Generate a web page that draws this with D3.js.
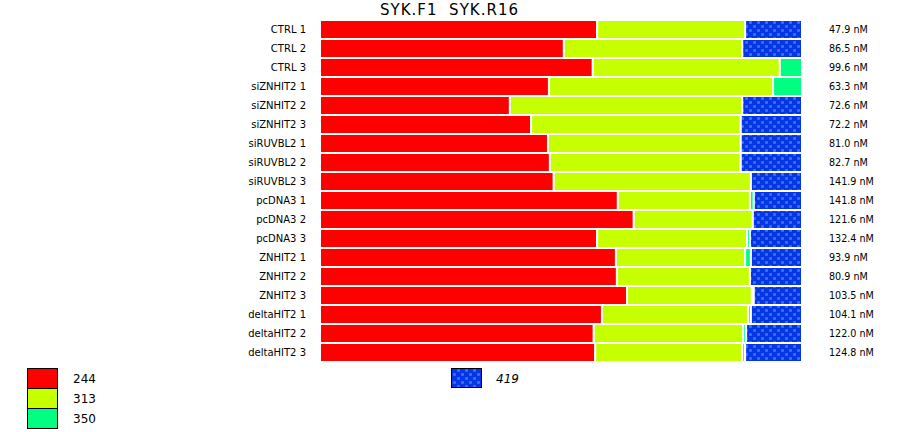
<!DOCTYPE html>
<html><head><meta charset="utf-8">
<script src="https://cdn.jsdelivr.net/npm/d3@7"></script>
<style>body{margin:0;background:#fff}svg{display:block}text{font-family:"DejaVu Sans",Verdana,sans-serif}</style>
</head><body>
<script>
const categories = ["CTRL 1","CTRL 2","CTRL 3","siZNHIT2 1","siZNHIT2 2","siZNHIT2 3","siRUVBL2 1","siRUVBL2 2","siRUVBL2 3","pcDNA3 1","pcDNA3 2","pcDNA3 3","ZNHIT2 1","ZNHIT2 2","ZNHIT2 3","deltaHIT2 1","deltaHIT2 2","deltaHIT2 3"];
const s244 = [57.5,50.6,56.6,47.5,39.4,43.8,47.3,47.7,48.5,61.8,65.1,57.5,61.4,61.6,63.7,58.5,56.8,57.1];
const s313 = [30.7,37.0,38.8,46.5,48.2,43.5,40.0,39.6,40.9,27.4,24.7,31.1,26.8,27.6,25.9,30.3,31.0,30.5];
const s350 = [0,0,4.6,6.0,0,0,0,0,0,0.8,0,0.6,1.2,0,0.4,0.6,0.6,0.6];
const s419 = [11.8,12.4,0,0,12.4,12.7,12.7,12.7,10.6,10.0,10.2,10.8,10.6,10.8,10.0,10.6,11.6,11.8];
const concLabels = ["47.9 nM","86.5 nM","99.6 nM","63.3 nM","72.6 nM","72.2 nM","81.0 nM","82.7 nM","141.9 nM","141.8 nM","121.6 nM","132.4 nM","93.9 nM","80.9 nM","103.5 nM","104.1 nM","122.0 nM","124.8 nM"];
const seriesNames = ["244","313","350","419"];
const title = "SYK.F1  SYK.R16";

const W = 900, H = 432;
const svg = d3.select("body").append("svg").attr("width", W).attr("height", H);
const defs = svg.append("defs");
const pat = defs.append("pattern").attr("id","dots").attr("patternUnits","userSpaceOnUse")
  .attr("width",8).attr("height",8);
pat.append("rect").attr("width",8).attr("height",8).attr("fill","#0536e6");
[[2,2],[6,6]].forEach(([cx,cy])=>{
  pat.append("rect").attr("x",cx-1).attr("y",cy-0.5).attr("width",3).attr("height",2).attr("fill","#3a6cff");
  pat.append("rect").attr("x",cx-0.5).attr("y",cy-1).attr("width",2).attr("height",3).attr("fill","#3a6cff");
});
const fills = {"244":"#ff0000","313":"#c6ff00","350":"#00ff80","419":"url(#dots)"};

const x = d3.scaleLinear().domain([0,100]).range([320,802]);
const y = d3.scaleBand().domain(categories).range([20,362]).padding(0);

const data = categories.map((c,i)=>({cat:c,"244":s244[i],"313":s313[i],"350":s350[i],"419":s419[i]}));
const stack = d3.stack().keys(seriesNames)(data);

const g = svg.append("g");
stack.forEach(layer=>{
  g.append("g").selectAll("rect").data(layer.filter(d=>d[1]-d[0]>0)).join("rect")
    .attr("x",d=>x(d[0])).attr("width",d=>x(d[1])-x(d[0]))
    .attr("y",d=>y(d.data.cat)).attr("height",y.bandwidth())
    .attr("fill",fills[layer.key]).attr("stroke","#fff").attr("stroke-width",2);
});

svg.append("g").selectAll("text").data(categories).join("text")
  .attr("x",306).attr("y",d=>y(d)+y.bandwidth()/2+3.5)
  .attr("text-anchor","end").attr("font-size",10).attr("fill","#000").text(d=>d);
svg.append("g").selectAll("text").data(concLabels).join("text")
  .attr("x",829).attr("y",(d,i)=>y(categories[i])+y.bandwidth()/2+3.5)
  .attr("font-size",9.6).attr("fill","#000").text(d=>d);
svg.append("text").attr("x",380).attr("y",15).attr("font-size",15)
  .style("white-space","pre").attr("xml:space","preserve")
  .attr("textLength",138).attr("lengthAdjust","spacing").attr("fill","#000").text(title);

const leg = svg.append("g");
seriesNames.slice(0,3).forEach((k,i)=>{
  leg.append("rect").attr("x",27.5).attr("y",368.5+i*20).attr("width",30).attr("height",20)
    .attr("fill",fills[k]).attr("stroke","#000").attr("stroke-width",1);
  leg.append("text").attr("x",73).attr("y",383+i*20).attr("font-size",12).text(k);
});
leg.append("rect").attr("x",451.5).attr("y",368.5).attr("width",30).attr("height",19)
  .attr("fill",fills["419"]).attr("stroke","#000").attr("stroke-width",1);
leg.append("text").attr("x",496).attr("y",383).attr("font-size",12).attr("font-style","italic").text(seriesNames[3]);
</script>
</body></html>
